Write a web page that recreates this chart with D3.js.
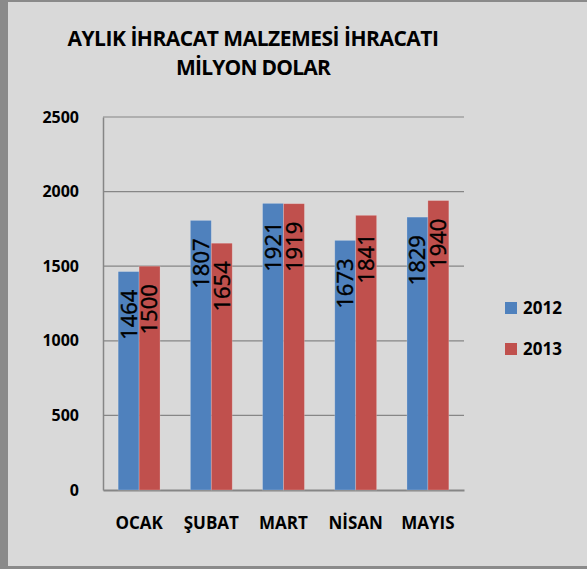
<!DOCTYPE html>
<html lang="tr">
<head>
<meta charset="UTF-8">
<title>Aylık İhracat Malzemesi İhracatı</title>
<script src="https://d3js.org/d3.v7.min.js"></script>
<style>
  html, body { margin: 0; padding: 0; background: #d9d9d9; }
  svg { display: block; font-family: "Open Sans", "Liberation Sans", sans-serif; }
</style>
</head>
<body>
<div id="chart"></div>
<script>
// veriler
const aylar = ["OCAK", "ŞUBAT", "MART", "NİSAN", "MAYIS"];
const seriler = ["2012", "2013"];
const degerler2012 = [1464, 1807, 1921, 1673, 1829];
const degerler2013 = [1500, 1654, 1919, 1841, 1940];
const yTicks = [0, 500, 1000, 1500, 2000, 2500];
const renkler = ["#4f81bd", "#c0504d"];

const W = 587, H = 569;
const plot = { left: 103, right: 464, top: 117, bottom: 490 };

const svg = d3.select("#chart").append("svg")
    .attr("width", W).attr("height", H);

// arka plan ve çerçeve
svg.append("rect").attr("width", W).attr("height", H).attr("fill", "#d9d9d9");
svg.append("rect").attr("x", 0).attr("y", 0).attr("width", 8).attr("height", H).attr("fill", "#8a8a8a");
svg.append("rect").attr("x", 0).attr("y", 0).attr("width", W).attr("height", 2).attr("fill", "#8a8a8a");
svg.append("rect").attr("x", 0).attr("y", H - 3).attr("width", W).attr("height", 3).attr("fill", "#8a8a8a");

// başlık - genişliği harf aralığıyla referansa uydur
const title = svg.append("text")
    .attr("text-anchor", "middle")
    .attr("font-weight", "bold")
    .attr("font-size", 21)
    .attr("fill", "#000");
const satir1 = title.append("tspan").attr("x", 253).attr("y", 46).text("AYLIK İHRACAT MALZEMESİ İHRACATI");
const satir2 = title.append("tspan").attr("x", 253).attr("y", 75).text("MİLYON DOLAR");
[[satir1, 371], [satir2, 154]].forEach(([t, hedef]) => {
    const w = t.node().getComputedTextLength();
    const n = t.text().length;
    t.attr("letter-spacing", (hedef - w) / n);
});

const x0 = d3.scaleBand()
    .domain(aylar)
    .range([plot.left, plot.right])
    .paddingInner(0.42)
    .paddingOuter(0.21);

const x1 = d3.scaleBand()
    .domain(seriler)
    .range([0, x0.bandwidth()]);

const y = d3.scaleLinear()
    .domain([0, 2500])
    .range([plot.bottom, plot.top]);

// ızgara çizgileri
svg.append("g")
    .selectAll("line")
    .data(yTicks.filter(d => d > 0))
    .enter().append("line")
    .attr("x1", plot.left).attr("x2", plot.right)
    .attr("y1", d => y(d)).attr("y2", d => y(d))
    .attr("stroke", "#868686").attr("stroke-width", 1.2);

// eksenler
const yAxis = svg.append("g")
    .attr("transform", `translate(${plot.left},0)`)
    .call(d3.axisLeft(y).tickValues(yTicks).tickFormat(d3.format("d")).tickSize(0).tickPadding(24));
yAxis.select(".domain").attr("stroke", "#868686").attr("stroke-width", 1.5);
yAxis.selectAll("text")
    .attr("font-size", 16).attr("font-weight", "bold")
    .attr("font-family", "'Open Sans', sans-serif").attr("fill", "#000");

const xAxis = svg.append("g")
    .attr("transform", `translate(0,${plot.bottom})`)
    .call(d3.axisBottom(x0).tickSize(0).tickPadding(27));
xAxis.select(".domain").attr("stroke", "#868686").attr("stroke-width", 2);
xAxis.selectAll("text")
    .attr("font-size", 17).attr("font-weight", "bold")
    .attr("font-family", "'Open Sans', sans-serif").attr("fill", "#000");

// sütunlar
const tablo = aylar.map((ay, i) => ({
    ay,
    vals: [
        { seri: seriler[0], v: degerler2012[i] },
        { seri: seriler[1], v: degerler2013[i] }
    ]
}));

const grup = svg.append("g").selectAll("g")
    .data(tablo)
    .enter().append("g")
    .attr("transform", d => `translate(${x0(d.ay)},0)`);

grup.selectAll("rect")
    .data(d => d.vals)
    .enter().append("rect")
    .attr("x", d => x1(d.seri))
    .attr("y", d => y(d.v))
    .attr("width", x1.bandwidth())
    .attr("height", d => y(0) - y(d.v))
    .attr("fill", (d, i) => renkler[i])
    .attr("stroke", "rgba(255,255,255,0.25)")
    .attr("stroke-width", 0.8);

// değer etiketleri
grup.selectAll("text")
    .data(d => d.vals)
    .enter().append("text")
    .attr("transform", d => `translate(${x1(d.seri) + x1.bandwidth() / 2},${y(d.v) + 18}) rotate(-90)`)
    .attr("text-anchor", "end")
    .attr("dy", "0.36em")
    .attr("font-size", 22)
    .attr("stroke", "#000").attr("stroke-width", 0.4)
    .attr("fill", "#000")
    .text(d => d.v);

// lejant
const lejant = svg.append("g")
    .selectAll("g")
    .data(seriler)
    .enter().append("g")
    .attr("transform", (d, i) => `translate(505,${302 + i * 41})`);
lejant.append("rect")
    .attr("width", 12).attr("height", 12)
    .attr("fill", (d, i) => renkler[i]);
lejant.append("text")
    .attr("x", 18).attr("y", 12)
    .attr("font-size", 17).attr("font-weight", "bold")
    .attr("fill", "#000")
    .text(d => d);
</script>
</body>
</html>
